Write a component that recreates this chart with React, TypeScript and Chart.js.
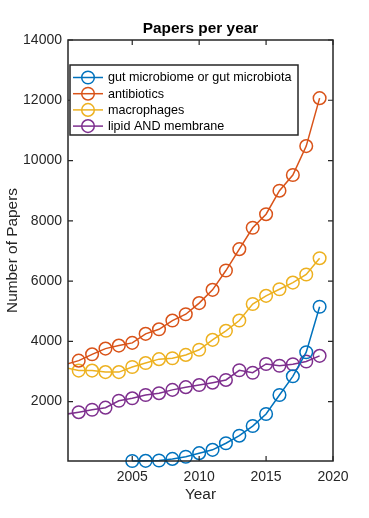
import React, { useEffect, useRef } from "react";
import { Chart, registerables } from "chart.js";

Chart.register(...registerables);

const years = [2000, 2001, 2002, 2003, 2004, 2005, 2006, 2007, 2008, 2009, 2010, 2011, 2012, 2013, 2014, 2015, 2016, 2017, 2018, 2019];
const gutMicrobiome = [null, null, null, null, null, 30, 35, 45, 100, 170, 290, 400, 620, 870, 1190, 1590, 2220, 2840, 3640, 5150];
const antibiotics = [3230, 3360, 3570, 3760, 3860, 3950, 4250, 4400, 4690, 4900, 5270, 5710, 6350, 7060, 7770, 8220, 9000, 9520, 10480, 12070];
const macrophages = [3130, 3030, 3030, 2980, 2980, 3150, 3280, 3410, 3440, 3550, 3720, 4050, 4350, 4690, 5240, 5510, 5730, 5950, 6220, 6760];
const lipidMembrane = [1580, 1650, 1730, 1800, 2030, 2110, 2220, 2280, 2390, 2480, 2550, 2630, 2720, 3040, 2960, 3250, 3190, 3240, 3330, 3520];

const seriesLabels = ["gut microbiome or gut microbiota", "antibiotics", "macrophages", "lipid AND membrane"];
const seriesColors = ["#0072BD", "#D95319", "#EDB120", "#7E2F8E"];
const xTicks = [2005, 2010, 2015, 2020];
const yTicks = [2000, 4000, 6000, 8000, 10000, 12000, 14000];
const titleText = "Papers per year";
const xTitle = "Year";
const yTitle = "Number of Papers";

const X_MIN = 2000.2;
const X_MAX = 2020;

const FONT = "'Liberation Sans', Arial, Helvetica, sans-serif";
const INK = "#262626";

const boxPlugin = {
  id: "matlabBox",
  afterDatasetsDraw(chart: any) {
    const { ctx, chartArea } = chart;
    const { left, right, top, bottom } = chartArea;
    const xs = chart.scales.x;
    const ys = chart.scales.y;
    ctx.save();
    ctx.strokeStyle = INK;
    ctx.lineWidth = 1.5;
    ctx.strokeRect(left, top, right - left, bottom - top);
    ctx.lineWidth = 1.2;
    const tl = 5;
    ctx.beginPath();
    xTicks.forEach((t) => {
      const px = xs.getPixelForValue(t);
      ctx.moveTo(px, bottom);
      ctx.lineTo(px, bottom - tl);
      ctx.moveTo(px, top);
      ctx.lineTo(px, top + tl);
    });
    yTicks.forEach((t) => {
      const py = ys.getPixelForValue(t);
      ctx.moveTo(left, py);
      ctx.lineTo(left + tl, py);
      ctx.moveTo(right, py);
      ctx.lineTo(right - tl, py);
    });
    ctx.stroke();

    // title
    ctx.fillStyle = "#000";
    ctx.font = `bold 15.4px ${FONT}`;
    ctx.textAlign = "center";
    ctx.textBaseline = "middle";
    ctx.fillText(titleText, (left + right) / 2, 29);

    // legend
    const lx = 70, ly = 65, lw = 228, lh = 70;
    ctx.fillStyle = "#fff";
    ctx.fillRect(lx, ly, lw, lh);
    ctx.strokeStyle = INK;
    ctx.lineWidth = 1.5;
    ctx.strokeRect(lx, ly, lw, lh);
    ctx.font = `12.6px ${FONT}`;
    ctx.textAlign = "left";
    const rows = [77.5, 93.7, 109.9, 126.1];
    chart.data.datasets.forEach((ds: any, i: number) => {
      const y = rows[i];
      ctx.strokeStyle = ds.borderColor;
      ctx.lineWidth = 1.5;
      ctx.beginPath();
      ctx.moveTo(73, y);
      ctx.lineTo(103, y);
      ctx.stroke();
      ctx.beginPath();
      ctx.arc(88, y, 6.3, 0, Math.PI * 2);
      ctx.stroke();
      ctx.fillStyle = "#000";
      ctx.fillText(ds.label, 108, y + 0.5);
    });
    ctx.restore();
  },
};

export default function App() {
  const ref = useRef<HTMLCanvasElement | null>(null);
  useEffect(() => {
    if (!ref.current) return;
    const mk = (label: string, data: (number | null)[], color: string) => ({
      label,
      data: years.map((y, i) => ({ x: y, y: data[i] })),
      borderColor: color,
      backgroundColor: "transparent",
      borderWidth: 1.5,
      pointRadius: (c: any) => (c.raw && c.raw.x < X_MIN ? 0 : 6.3),
      pointHoverRadius: 6.3,
      pointBorderWidth: 1.5,
      pointBackgroundColor: "transparent",
      pointBorderColor: color,
      tension: 0,
      spanGaps: false,
      clip: { left: 0, top: false, right: false, bottom: false },
    });
    const chart = new Chart(ref.current, {
      type: "line",
      data: {
        datasets: [
          mk(seriesLabels[0], gutMicrobiome, seriesColors[0]),
          mk(seriesLabels[1], antibiotics, seriesColors[1]),
          mk(seriesLabels[2], macrophages, seriesColors[2]),
          mk(seriesLabels[3], lipidMembrane, seriesColors[3]),
        ] as any,
      },
      options: {
        animation: false,
        responsive: false,
        devicePixelRatio: 1,
        layout: { padding: { top: 40, right: 36, left: 0, bottom: 0 } },
        plugins: { legend: { display: false }, title: { display: false }, tooltip: { enabled: false } },
        scales: {
          x: {
            type: "linear",
            min: X_MIN,
            max: X_MAX,
            afterBuildTicks: (s: any) => {
              s.ticks = xTicks.map((v) => ({ value: v }));
            },
            afterFit: (s: any) => {
              s.height = 57;
            },
            grid: { display: false, drawTicks: false },
            border: { display: false },
            ticks: {
              color: INK,
              font: { family: FONT, size: 14 },
              padding: 8,
              maxRotation: 0,
              callback: (v: any) => String(v),
            },
            title: {
              display: true,
              text: xTitle,
              color: INK,
              font: { family: FONT, size: 15.4 },
              padding: { top: 0, bottom: 14 },
            },
          },
          y: {
            type: "linear",
            min: 30,
            max: 14000,
            afterBuildTicks: (s: any) => {
              s.ticks = yTicks.map((v) => ({ value: v }));
            },
            afterFit: (s: any) => {
              s.width = 68;
            },
            grid: { display: false, drawTicks: false },
            border: { display: false },
            ticks: {
              color: INK,
              font: { family: FONT, size: 14 },
              padding: 6,
              callback: (v: any) => String(v),
            },
            title: {
              display: true,
              text: yTitle,
              color: INK,
              font: { family: FONT, size: 15.4 },
              padding: { top: 4, bottom: 0 },
            },
          },
        },
      },
      plugins: [boxPlugin],
    });
    return () => chart.destroy();
  }, []);
  return (
    <div style={{ position: "fixed", left: 0, top: 0, width: 369, height: 518, background: "#fff" }}>
      <canvas ref={ref} width={369} height={518} style={{ display: "block" }} />
    </div>
  );
}
